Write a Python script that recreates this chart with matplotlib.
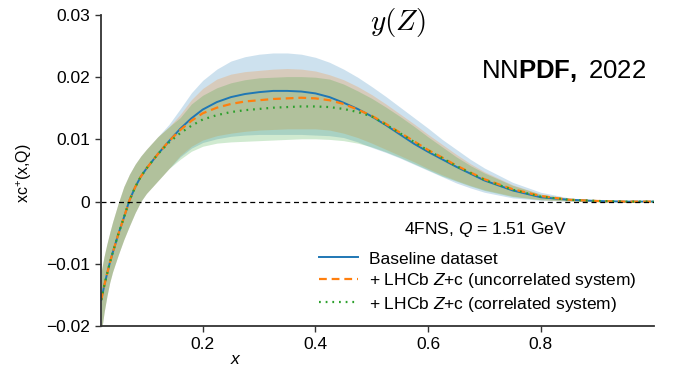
import matplotlib
matplotlib.use("Agg")
import matplotlib.pyplot as plt

plt.rcParams["font.family"] = ["Liberation Sans", "DejaVu Sans"]
plt.rcParams["mathtext.fontset"] = "custom"
plt.rcParams["mathtext.rm"] = "Liberation Sans"
plt.rcParams["mathtext.it"] = "Liberation Sans:italic"
plt.rcParams["mathtext.bf"] = "Liberation Sans:bold"

# x grid of the charm PDF
x = [0.02, 0.025, 0.03, 0.035, 0.04, 0.05, 0.06, 0.07, 0.08, 0.09, 0.10,
     0.12, 0.14, 0.16, 0.18, 0.20, 0.225, 0.25, 0.275, 0.30, 0.325, 0.35,
     0.375, 0.40, 0.425, 0.45, 0.475, 0.50, 0.525, 0.55, 0.575, 0.60, 0.625,
     0.65, 0.675, 0.70, 0.75, 0.80, 0.85, 0.90, 0.95, 1.00]

# small-x part, shared by all three fits
low_cv = [-0.0158, -0.0136, -0.0117, -0.0099, -0.0083, -0.0053, -0.0026,
          0.0002, 0.0023, 0.0040, 0.0053, 0.0076, 0.0097]
low_lo = [-0.0210, -0.0178, -0.0152, -0.0130, -0.0113, -0.0086, -0.0061,
          -0.0039, -0.0018, 0.0000, 0.0013, 0.0033, 0.0053]
low_hi = [-0.0112, -0.0088, -0.0068, -0.0050, -0.0033, -0.0003, 0.0024,
          0.0044, 0.0060, 0.0073, 0.0084, 0.0104, 0.0120]

# baseline dataset
base_cv = low_cv + [0.0117, 0.0134, 0.0148, 0.0160, 0.0168, 0.0173, 0.0176,
                    0.0178, 0.0178, 0.0177, 0.0174, 0.0168, 0.0159, 0.0149,
                    0.0137, 0.0123, 0.0108, 0.0093, 0.0080, 0.0068, 0.0056,
                    0.0045, 0.0034, 0.0018, 0.0007, 0.0003, 0.0001, 0.0, 0.0]
base_lo = low_lo + [0.0072, 0.0086, 0.0095, 0.0101, 0.0105, 0.0107, 0.0108,
                    0.0108, 0.0108, 0.0108, 0.0107, 0.0106, 0.0103, 0.0096,
                    0.0087, 0.0079, 0.0070, 0.0060, 0.0050, 0.0040, 0.0030,
                    0.0022, 0.0015, 0.0006, 0.0002, 0.0001, 0.0, 0.0, 0.0]
base_hi = low_hi[:-1] + [0.0124,
                         0.0149, 0.0175, 0.0195, 0.0213, 0.0226, 0.0233, 0.0237,
                         0.0239, 0.0239, 0.0237, 0.0232, 0.0224, 0.0213, 0.0200,
                         0.0185, 0.0169, 0.0152, 0.0135, 0.0118, 0.0100, 0.0084,
                         0.0068, 0.0054, 0.0031, 0.0015, 0.0006, 0.0002, 0.0, 0.0]

# + LHCb Z+c, uncorrelated systematics
unc_cv = low_cv + [0.0115, 0.0130, 0.0142, 0.0151, 0.0157, 0.0161, 0.0163,
                   0.0165, 0.0166, 0.0167, 0.0166, 0.0163, 0.0157, 0.0148,
                   0.0138, 0.0125, 0.0111, 0.0097, 0.0083, 0.0071, 0.0058,
                   0.0047, 0.0036, 0.0020, 0.0009, 0.0003, 0.0001, 0.0, 0.0]
unc_lo = low_lo + [0.0074, 0.0089, 0.0099, 0.0106, 0.0110, 0.0113, 0.0115,
                   0.0116, 0.0117, 0.0117, 0.0117, 0.0115, 0.0110, 0.0103,
                   0.0094, 0.0084, 0.0074, 0.0064, 0.0053, 0.0043, 0.0034,
                   0.0026, 0.0019, 0.0009, 0.0003, 0.0001, 0.0, 0.0, 0.0]
unc_hi = low_hi + [0.0140, 0.0164, 0.0182, 0.0197, 0.0205, 0.0209, 0.0211,
                   0.0213, 0.0214, 0.0213, 0.0210, 0.0204, 0.0196, 0.0185,
                   0.0172, 0.0157, 0.0141, 0.0125, 0.0108, 0.0092, 0.0076,
                   0.0061, 0.0048, 0.0027, 0.0012, 0.0005, 0.0001, 0.0, 0.0]

# + LHCb Z+c, correlated systematics
cor_cv = low_cv[:-1] + [0.0095,
                        0.0110, 0.0122, 0.0132, 0.0139, 0.0144, 0.0147, 0.0149,
                        0.0151, 0.0152, 0.0153, 0.0153, 0.0152, 0.0149, 0.0144,
                        0.0137, 0.0124, 0.0110, 0.0096, 0.0082, 0.0070, 0.0057,
                        0.0046, 0.0035, 0.0019, 0.0008, 0.0003, 0.0001, 0.0, 0.0]
cor_lo = low_lo + [0.0068, 0.0081, 0.0089, 0.0094, 0.0096, 0.0097, 0.0098,
                   0.0099, 0.0100, 0.0101, 0.0101, 0.0100, 0.0098, 0.0094,
                   0.0088, 0.0080, 0.0071, 0.0061, 0.0051, 0.0041, 0.0033,
                   0.0025, 0.0018, 0.0008, 0.0003, 0.0001, 0.0, 0.0, 0.0]
cor_hi = low_hi + [0.0135, 0.0157, 0.0171, 0.0183, 0.0191, 0.0196, 0.0199,
                   0.0200, 0.0201, 0.0201, 0.0200, 0.0197, 0.0189, 0.0178,
                   0.0166, 0.0152, 0.0137, 0.0121, 0.0104, 0.0088, 0.0072,
                   0.0058, 0.0046, 0.0026, 0.0012, 0.0004, 0.0001, 0.0, 0.0]

labels = ["Baseline dataset",
          "+ LHCb $Z$+c (uncorrelated system)",
          "+ LHCb $Z$+c (correlated system)"]
yticks = [-0.02, -0.01, 0.0, 0.01, 0.02, 0.03]
yticklabels = ["\u22120.02", "\u22120.01", "0", "0.01", "0.02", "0.03"]
xticks = [0.2, 0.4, 0.6, 0.8]
xticklabels = ["0.2", "0.4", "0.6", "0.8"]

fig = plt.figure(figsize=(6.77, 3.69), dpi=100)
ax = fig.add_axes([0.1496, 0.1165, 0.8157, 0.8428])

ax.fill_between(x, base_lo, base_hi, color="C0", alpha=0.22, lw=0)
ax.fill_between(x, unc_lo, unc_hi, color="C1", alpha=0.22, lw=0)
ax.fill_between(x, cor_lo, cor_hi, color="C2", alpha=0.22, lw=0)

ax.plot(x, base_cv, color="C0", lw=1.4, label=labels[0])
ax.plot(x, unc_cv, color="C1", lw=1.6, ls=(0, (3.5, 2.2)), label=labels[1])
ax.plot(x, cor_cv, color="C2", lw=1.6, ls=(0, (0.8, 2.2)), label=labels[2])

ax.axhline(0, color="black", lw=0.9, ls=(0, (4, 3)))

ax.set_xlim(0.02, 1.0)
ax.set_ylim(-0.02, 0.03)
ax.set_xticks(xticks)
ax.set_xticklabels(xticklabels)
ax.set_yticks(yticks)
ax.set_yticklabels(yticklabels)
ax.tick_params(labelsize=12.5, length=4, width=1.0, color="#333333", pad=4)

for side in ["top", "right"]:
    ax.spines[side].set_visible(False)
for side in ["left", "bottom"]:
    ax.spines[side].set_linewidth(1.3)
    ax.spines[side].set_color("#333333")

ax.set_xlabel("$x$", fontsize=12.5)
ax.xaxis.set_label_coords(0.244, -0.085)
ax.set_ylabel("xc$^{+}$(x,Q)", fontsize=11.5)
ax.yaxis.set_label_coords(-0.121, 0.49)

ax.text(0.695, 0.309, "4FNS, $Q$ = 1.51 GeV", transform=ax.transAxes,
        ha="center", va="center", fontsize=12.5)

ax.legend(loc="upper left", bbox_to_anchor=(0.394, 0.24), frameon=False,
          fontsize=12.5, borderpad=0, borderaxespad=0, labelspacing=0.26,
          handlelength=2.25, handletextpad=0.65)

fig.text(0.588, 0.939, "$y(Z)$", ha="center", va="center", fontsize=21,
         math_fontfamily="cm")
fig.text(0.7105, 0.789, r"NN$\mathbf{PDF,}$ 2022", ha="left",
         va="baseline", fontsize=18.5)

fig.savefig("out.png", dpi=100)
